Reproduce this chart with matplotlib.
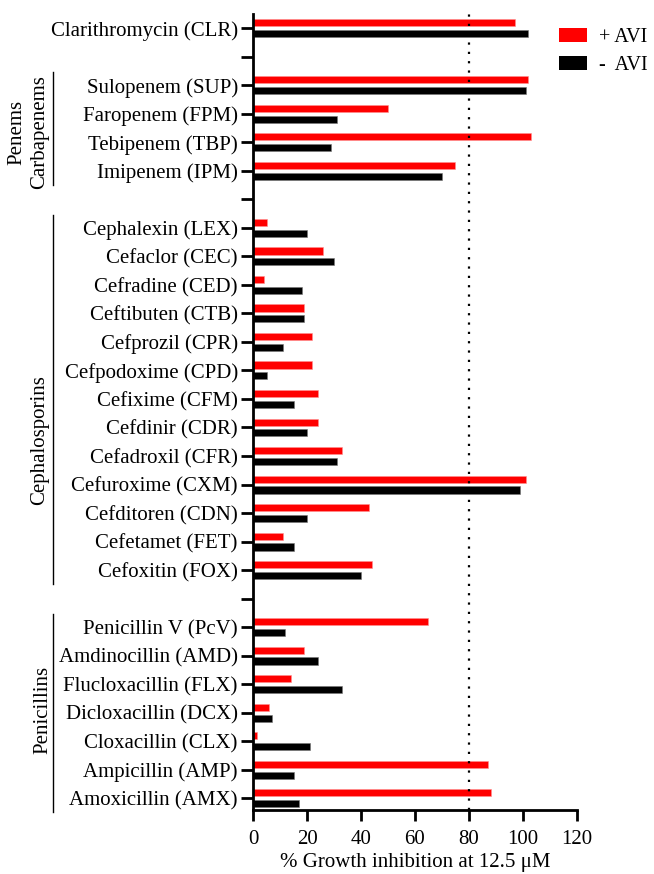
import matplotlib
matplotlib.use("Agg")
import matplotlib.pyplot as plt
from matplotlib.transforms import blended_transform_factory
from matplotlib.patches import Patch

plt.rcParams["font.family"] = ["Liberation Serif", "DejaVu Serif"]

# ---------------------------------------------------------
# Data (top to bottom, "" = empty spacer row)
# ---------------------------------------------------------
drugs = [
    "Clarithromycin (CLR)", "",
    "Sulopenem (SUP)", "Faropenem (FPM)", "Tebipenem (TBP)", "Imipenem (IPM)", "",
    "Cephalexin (LEX)", "Cefaclor (CEC)", "Cefradine (CED)", "Ceftibuten (CTB)",
    "Cefprozil (CPR)", "Cefpodoxime (CPD)", "Cefixime (CFM)", "Cefdinir (CDR)",
    "Cefadroxil (CFR)", "Cefuroxime (CXM)", "Cefditoren (CDN)", "Cefetamet (FET)",
    "Cefoxitin (FOX)", "",
    "Penicillin V (PcV)", "Amdinocillin (AMD)", "Flucloxacillin (FLX)",
    "Dicloxacillin (DCX)", "Cloxacillin (CLX)", "Ampicillin (AMP)", "Amoxicillin (AMX)",
]
plus_avi = [
    97, None,
    102, 50, 103, 75, None,
    5, 26, 4, 19, 22, 22, 24, 24, 33, 101, 43, 11, 44, None,
    65, 19, 14, 6, 1.5, 87, 88,
]
minus_avi = [
    102, None,
    101, 31, 29, 70, None,
    20, 30, 18, 19, 11, 5, 15, 20, 31, 99, 20, 15, 40, None,
    12, 24, 33, 7, 21, 15, 17,
]
threshold = 80

# groups: (first row, last row)
groups = [
    ("Sulopenem (SUP)", "Imipenem (IPM)"),
    ("Cephalexin (LEX)", "Cefoxitin (FOX)"),
    ("Penicillin V (PcV)", "Amoxicillin (AMX)"),
]

# ---------------------------------------------------------
# Plot
# ---------------------------------------------------------
fig = plt.figure(figsize=(6.54, 8.74), dpi=100)
ax = fig.add_axes([0.387, 0.073, 0.495, 0.911])

pos = list(range(len(drugs)))
bar_h = 0.25
off = 0.19
for i, (p, m) in enumerate(zip(plus_avi, minus_avi)):
    if p is not None:
        ax.barh(i - off, p, height=bar_h, color="#ff0000", edgecolor="#ff9090", linewidth=0.4)
    if m is not None:
        ax.barh(i + off, m, height=bar_h, color="black", edgecolor="#777777", linewidth=0.4)

ax.axvline(threshold, color="black", linestyle=(0, (1, 3.2)), linewidth=1.6)

ax.set_ylim(len(drugs) - 0.58, -0.5)
ax.set_yticks(pos)
ax.set_yticklabels(drugs, fontsize=15)
ax.set_xlim(0, 120)
ax.set_xticks(range(0, 121, 20))
ax.tick_params(axis="x", labelsize=15, width=2, length=8, pad=6)
ax.tick_params(axis="y", width=2, length=9, pad=2)
ax.set_xlabel("% Growth inhibition at 12.5 \u03bcM", fontsize=15, labelpad=3)

for s in ["top", "right"]:
    ax.spines[s].set_visible(False)
for s in ["left", "bottom"]:
    ax.spines[s].set_linewidth(2)

# group brackets on the left
tr = blended_transform_factory(fig.transFigure, ax.transData)
line_x = 53 / 654
for first, last in groups:
    y0 = drugs.index(first) - 0.45
    y1 = drugs.index(last) + 0.5
    ax.plot([line_x, line_x], [y0, y1], color="black", lw=1, transform=tr, clip_on=False)

ax.text(17 / 654, 3.65, "Penems", rotation=90, ha="center", va="center", fontsize=15, transform=tr)
ax.text(40 / 654, 3.65, "Carbapenems", rotation=90, ha="center", va="center", fontsize=15, transform=tr)
ax.text(40 / 654, 14.45, "Cephalosporins", rotation=90, ha="center", va="center", fontsize=15, transform=tr)
ax.text(43 / 654, 23.9, "Penicillins", rotation=90, ha="center", va="center", fontsize=15, transform=tr)

handles = [Patch(facecolor="#ff0000"), Patch(facecolor="black")]
fig.legend(handles, ["+ AVI", "-  AVI"], loc="upper left",
           bbox_to_anchor=(541 / 654, 1 - 10 / 874), frameon=False, fontsize=14.5,
           handlelength=1.4, handleheight=0.7, handletextpad=0.6, labelspacing=0.45)

fig.savefig("out.png", dpi=100)
